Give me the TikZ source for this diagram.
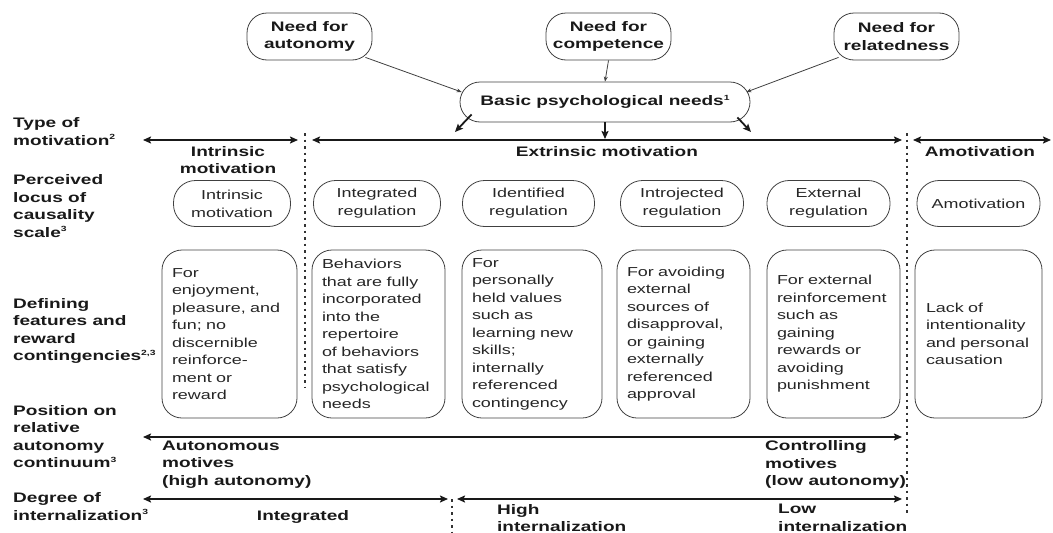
\documentclass[tikz,border=0pt]{standalone}
\usepackage{fontspec}
\setmainfont[FakeStretch=1.38]{Liberation Sans}
\usetikzlibrary{arrows.meta,calc}
\newcommand\supnum[1]{\raisebox{0.75ex}{\fontsize{7.5}{8}\selectfont #1}}
\begin{document}
\begin{tikzpicture}[x=1pt,y=-1pt,
  bfont/.style={font=\fontsize{13.8}{17.5}\selectfont\bfseries},
  lbl/.style={bfont, text=black!90, align=left, anchor=west, inner sep=0pt},
  need/.style={draw=black!75, line width=0.8pt, rounded corners=20pt, minimum width=125pt, minimum height=47pt, bfont, text=black!90, align=center, inner sep=0pt},
  locus/.style={draw=black!75, line width=0.8pt, rounded corners=22pt, minimum height=46pt, font=\fontsize{13}{18}\selectfont, text=black!85, align=center, inner sep=0pt},
  feat/.style={draw=black!75, line width=0.8pt, rounded corners=20pt, minimum height=168pt, font=\fontsize{13}{17.5}\selectfont, text=black!85, align=left, inner xsep=10pt, inner ysep=0pt},
  thinarrow/.style={draw=black!75, line width=0.8pt, -{Stealth[length=5pt,width=4pt]}},
  thickarrow/.style={draw=black!90, line width=1.8pt, -{Stealth[length=8pt,width=7pt,inset=1.5pt]}},
  dblarrow/.style={draw=black!90, line width=1.8pt, {Stealth[length=8pt,width=7pt,inset=1.5pt]}-{Stealth[length=8pt,width=7pt,inset=1.5pt]}},
  dotline/.style={draw=black!80, line width=2.3pt, dash pattern=on 2.5pt off 4pt}
]
\useasboundingbox (0,0) rectangle (1053,533);

% top needs
\node[need] (aut) at (309.5,36.5) {Need for\\autonomy};
\node[need] (comp) at (608.5,36.5) {Need for\\competence};
\node[need] (rel) at (896.5,36.5) {Need for\\relatedness};
\node[need, minimum width=290pt, minimum height=40pt] (basic) at (605,102) {Basic psychological needs\supnum{1}};

\draw[thinarrow] ($(aut.south east)+(-7,-3)$) -- ($(basic.west)+(2,-10)$);
\draw[thinarrow] (comp.south) -- (basic.north);
\draw[thinarrow] ($(rel.south west)+(5,-3)$) -- ($(basic.east)+(-4,-10)$);

\coordinate (bl) at (455,132);
\coordinate (bm) at (605,139);
\coordinate (br) at (751,132);
\draw[thickarrow] ($(basic.south west)+(12,-8)$) -- (bl);
\draw[thickarrow] (basic.south) -- (bm);
\draw[thickarrow] ($(basic.south east)+(-13,-5)$) -- (br);

% left labels
\node[lbl] (l1) at (13,131.5) {Type of\\motivation\supnum{2}};
\node[lbl] (l2) at (13,206) {Perceived\\locus of\\causality\\scale\supnum{3}};
\node[lbl] (l3) at (13,331) {Defining\\features and\\reward\\contingencies\supnum{2,3}};
\node[lbl] (l4) at (13,436.5) {Position on\\relative\\autonomy\\continuum\supnum{3}};
\node[lbl] (l5) at (13,506.5) {Degree of\\internalization\supnum{3}};

% type of motivation row
\coordinate (t1a) at (143,140); \coordinate (t1b) at (298,140);
\coordinate (t2a) at (312,140); \coordinate (t2b) at (902,140);
\coordinate (t3a) at (913,140); \coordinate (t3b) at (1051,140);
\draw[dblarrow] (t1a) -- (t1b);
\draw[dblarrow] (t2a) -- (t2b);
\draw[dblarrow] (t3a) -- (t3b);
\node[bfont, text=black!90, align=center, inner sep=0pt] (im) at (228,160) {Intrinsic\\motivation};
\node[bfont, text=black!90, inner sep=0pt] (em) at (607,152) {Extrinsic motivation};
\node[bfont, text=black!90, inner sep=0pt] (am) at (980,152) {Amotivation};

% dotted separators
\coordinate (d1a) at (305,133); \coordinate (d1b) at (305,388);
\coordinate (d2a) at (907,133); \coordinate (d2b) at (907,514);
\coordinate (d3a) at (452,499); \coordinate (d3b) at (452,533);
\draw[dotline] (d1a) -- (d1b);
\draw[dotline] (d2a) -- (d2b);
\draw[dotline] (d3a) -- (d3b);

% locus row
\node[locus, minimum width=117pt] (c1) at (232,203.5) {Intrinsic\\motivation};
\node[locus, minimum width=127pt] (c2) at (377,203.5) {Integrated\\regulation};
\node[locus, minimum width=132pt] (c3) at (528.5,203.5) {Identified\\regulation};
\node[locus, minimum width=123pt] (c4) at (682,203.5) {Introjected\\regulation};
\node[locus, minimum width=123pt] (c5) at (828.5,203.5) {External\\regulation};
\node[locus, minimum width=123pt] (c6) at (978.5,203.5) {Amotivation};

% defining features row
\node[feat, text width=115pt] (f1) at (229.5,334) {For\\enjoyment,\\pleasure, and\\fun; no\\discernible\\reinforce-\\ment or\\reward};
\node[feat, text width=113pt] (f2) at (378.5,334) {Behaviors\\that are fully\\incorporated\\into the\\repertoire\\of behaviors\\that satisfy\\psychological\\needs};
\node[feat, text width=120pt] (f3) at (532,334) {For\\personally\\held values\\such as\\learning new\\skills;\\internally\\referenced\\contingency};
\node[feat, text width=113pt] (f4) at (683.5,334) {For avoiding\\external\\sources of\\disapproval,\\or gaining\\externally\\referenced\\approval};
\node[feat, text width=113pt] (f5) at (833.5,334) {For external\\reinforcement\\such as\\gaining\\rewards or\\avoiding\\punishment};
\node[feat, text width=105pt, inner xsep=11pt] (f6) at (978.5,334) {Lack of\\intentionality\\and personal\\causation};

% autonomy continuum
\coordinate (p1) at (143,437); \coordinate (p2) at (902,437);
\draw[dblarrow] (p1) -- (p2);
\node[lbl] (auto) at (162,464.5) {Autonomous\\motives\\(high autonomy)};
\node[lbl] (ctrl) at (765,464.5) {Controlling\\motives\\(low autonomy)};

% internalization
\coordinate (g1) at (143,499); \coordinate (g2) at (448,499);
\coordinate (g3) at (457,499); \coordinate (g4) at (902,499);
\draw[dblarrow] (g1) -- (g2);
\draw[dblarrow] (g3) -- (g4);
\node[bfont, text=black!90, inner sep=0pt] (integ) at (303,517) {Integrated};
\node[lbl] (high) at (497,518) {High\\internalization};
\node[lbl] (low) at (778,518) {Low\\internalization};
\end{tikzpicture}
\end{document}
